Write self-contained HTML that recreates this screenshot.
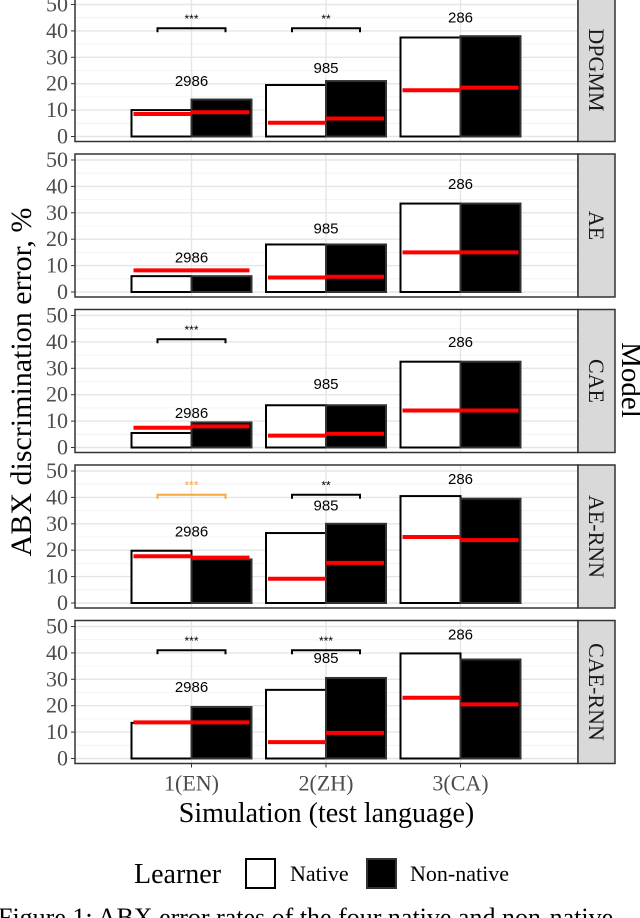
<!DOCTYPE html>
<html><head><meta charset="utf-8"><style>
body{margin:0;background:#fff;width:640px;height:918px;overflow:hidden}
svg{display:block}
</style></head><body>
<svg id="chart" width="640" height="918" xmlns="http://www.w3.org/2000/svg"></svg>
<script>
const models=["DPGMM","AE","CAE","AE-RNN","CAE-RNN"];
const categories=["1(EN)","2(ZH)","3(CA)"];
const nativeErr=[[10,19.5,37.5],[6,18,33.5],[5.5,16,32.5],[19.8,26.5,40.5],[13.5,26,39.8]];
const nonNativeErr=[[14,21,38],[6,18,33.5],[9.5,16,32.5],[16.5,30,39.5],[19.5,30.5,37.5]];
const nativeRef=[[8.5,5.2,17.5],[8.2,5.5,15],[7.5,4.5,14],[17.7,9.2,25],[13.7,6.2,23]];
const nonNativeRef=[[9.2,6.8,18.5],[8.2,5.8,15],[8,5.2,14],[17.2,15.2,23.8],[13.7,9.7,20.5]];
const counts=["2986","985","286"];
const countY=[[21,26,45],[13,24,41],[13,24,40],[27,37,47],[27,38,47]];
const signif=[["***","**",""],["","",""],["***","",""],["***","**",""],["***","***",""]];
const signifColor=[["#000","#000",""],["","",""],["#000","",""],["#f5a742","#000",""],["#000","#000",""]];
const yTicks=[0,10,20,30,40,50];

const NS="http://www.w3.org/2000/svg";
const svg=document.getElementById('chart');
function mk(tag,attrs,parent,text){const e=document.createElementNS(NS,tag);for(const k in attrs)e.setAttribute(k,attrs[k]);if(text!==undefined)e.textContent=text;(parent||svg).appendChild(e);return e;}
const L=75,R=578,SW=37,panelStep=155.5,firstTop=-1.5,panelH=143,zeroOff=138,unit=2.64;
const xc=i=>191.5+i*134.5;
const serif='"Liberation Serif",serif',sans='"Liberation Sans",sans-serif';
models.forEach((m,p)=>{
  const top=firstTop+p*panelStep;
  const y=v=>top+zeroOff-v*unit;
  const g=mk('g',{});
  
  
  mk('rect',{x:L,y:top,width:R-L,height:panelH,fill:'#fff'},g);
  for(let v=5;v<=50;v+=10){mk('line',{x1:L,x2:R,y1:y(v),y2:y(v),stroke:'#f0f0f0','stroke-width':0.8},g);}
  yTicks.forEach(v=>{
    const l=mk('line',{x1:L,x2:R,y1:y(v),y2:y(v),stroke:'#e5e5e5','stroke-width':1.4},g);
    
    mk('line',{x1:L-4,x2:L,y1:y(v),y2:y(v),stroke:'#333','stroke-width':1},g);
    const t=mk('text',{x:L-7,y:y(v)+7,'text-anchor':'end','font-family':serif,'font-size':22,fill:'#4d4d4d'},g,String(v));
    
  });
  categories.forEach((c,i)=>mk('line',{x1:xc(i),x2:xc(i),y1:top,y2:top+panelH,stroke:'#e5e5e5','stroke-width':1.4},g));
  categories.forEach((c,i)=>{
    const cx=xc(i);
    const b1=mk('rect',{x:cx-60,y:y(nativeErr[p][i]),width:60,height:nativeErr[p][i]*unit,fill:'#fff',stroke:'#000','stroke-width':2},g);
    
    const b2=mk('rect',{x:cx,y:y(nonNativeErr[p][i]),width:60,height:nonNativeErr[p][i]*unit,fill:'#000',stroke:'#333','stroke-width':2},g);
    
    const r1=mk('line',{x1:cx-58,x2:cx,y1:y(nativeRef[p][i]),y2:y(nativeRef[p][i]),stroke:'#ff0000','stroke-width':4},g);
    
    const r2=mk('line',{x1:cx,x2:cx+58,y1:y(nonNativeRef[p][i]),y2:y(nonNativeRef[p][i]),stroke:'#ff0000','stroke-width':4},g);
    
    const ct=mk('text',{x:cx,y:y(countY[p][i])+5,'text-anchor':'middle','font-family':sans,'font-size':15,fill:'#000'},g,counts[i]);
    
    if(signif[p][i]){
      const col=signifColor[p][i];
      const br=mk('path',{d:`M${cx-34},${y(39.5)}V${y(41)}H${cx+34}V${y(39.5)}`,fill:'none',stroke:col,'stroke-width':2},g);
      
      const st=mk('text',{x:cx,y:y(44.5)+4,'text-anchor':'middle','font-family':sans,'font-size':12,fill:col},g,signif[p][i]);
      
    }
  });
  mk('rect',{x:L,y:top,width:R-L,height:panelH,fill:'none',stroke:'#333','stroke-width':1.5},g);
  const sr=mk('rect',{x:R,y:top,width:SW,height:panelH,fill:'#d9d9d9',stroke:'#333','stroke-width':1.5},g);
  
  const sx=R+SW/2,sy=top+panelH/2;
  const stt=mk('text',{x:sx,y:sy,'text-anchor':'middle','dominant-baseline':'central','font-family':serif,'font-size':22,fill:'#1a1a1a',transform:`rotate(90 ${sx} ${sy})`},g,m);
  
});
const lastBottom=firstTop+4*panelStep+panelH;
categories.forEach((c,i)=>{
  mk('line',{x1:xc(i),x2:xc(i),y1:lastBottom,y2:lastBottom+4,stroke:'#333','stroke-width':1});
  const t=mk('text',{x:xc(i),y:lastBottom+27,'text-anchor':'middle','font-family':serif,'font-size':22,fill:'#4d4d4d'},undefined,c);
  
});
let t=mk('text',{x:L+(R-L)/2,y:822,'text-anchor':'middle','font-family':serif,'font-size':28,fill:'#000'},undefined,'Simulation (test language)');

t=mk('text',{x:31,y:382,'text-anchor':'middle','font-family':serif,'font-size':30,fill:'#000',transform:'rotate(-90 31 382)'},undefined,'ABX discrimination error, %');

t=mk('text',{x:622,y:380,'text-anchor':'middle','font-family':serif,'font-size':29,fill:'#000',transform:'rotate(90 622 380)'},undefined,'Model');

t=mk('text',{x:134,y:883,'font-family':serif,'font-size':28,fill:'#000'},undefined,'Learner');

let k=mk('rect',{x:246,y:859,width:29,height:29,fill:'#fff',stroke:'#000','stroke-width':2});

t=mk('text',{x:290,y:881,'font-family':serif,'font-size':22,fill:'#000'},undefined,'Native');

k=mk('rect',{x:367,y:859,width:29,height:29,fill:'#000',stroke:'#333','stroke-width':2});

t=mk('text',{x:410,y:881,'font-family':serif,'font-size':22,fill:'#000'},undefined,'Non-native');

t=mk('text',{x:-2,y:926,'font-family':serif,'font-size':26,fill:'#000'},undefined,'Figure 1: ABX error rates of the four native and non-native');

</script>
</body></html>
